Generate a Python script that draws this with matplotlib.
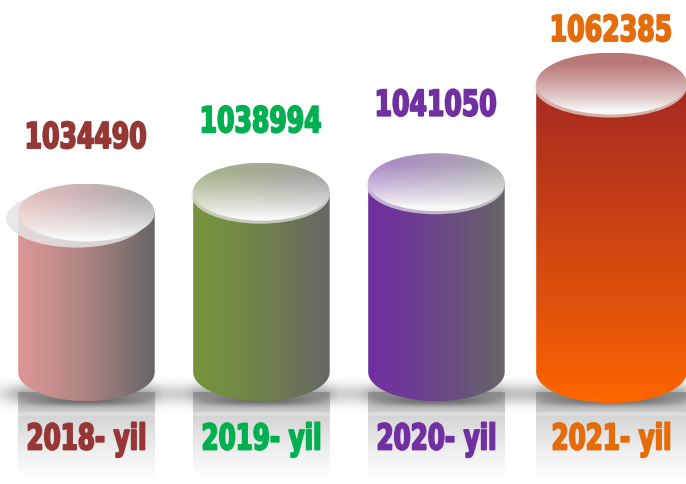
import numpy as np
import matplotlib
matplotlib.use("Agg")
import matplotlib.pyplot as plt
import matplotlib.colors as mcolors
from matplotlib.patches import Ellipse, PathPatch
from matplotlib.path import Path
from matplotlib.textpath import TextPath
from matplotlib.font_manager import FontProperties
from matplotlib.transforms import Affine2D, ScaledTranslation

# chart data
years = ["2018- yil", "2019- yil", "2020- yil", "2021- yil"]
values = [1034490, 1038994, 1041050, 1062385]
BASE = 1_000_000  # infographic baseline

# styles
text_colors = ["#953735", "#00B050", "#7030A0", "#E46C0A"]
body_left = ["#D99694", "#77933C", "#7030A0", "#A52A22"]
body_right = ["#666666", "#666666", "#666666", "#FF6600"]
body_vertical = [False, False, False, True]
lid_left = ["#E8BEBE", "#A8B48A", "#A986C8", "#B97878"]
lid_right = ["#ABABAB", "#A3A3A3", "#ADADAD", "#B97878"]
widths = [0.78, 0.78, 0.78, 0.86]
value_gap_px = [78, 73, 80, 56]  # lid centre -> value text centre

W, H = 686, 484
fig = plt.figure(figsize=(W / 100, H / 100), dpi=100)
ax = fig.add_axes([0, 0, 1, 1])
ax.axis("off")

XLIM = (-0.494, 3.426)
YLIM = (BASE - 24200, BASE + 80450)
ax.set_xlim(*XLIM)
ax.set_ylim(*YLIM)
ux = (XLIM[1] - XLIM[0]) / W  # data units per pixel
uy = (YLIM[1] - YLIM[0]) / H

def px_y(py):
    # pixel row (from top) -> data y
    return YLIM[1] - py * uy

def grad_rgb(c1, c2, n, gamma=1.0):
    t = np.linspace(0, 1, n) ** gamma
    a, b = np.array(mcolors.to_rgb(c1)), np.array(mcolors.to_rgb(c2))
    return a[None, :] * (1 - t[:, None]) + b[None, :] * t[:, None]

FP = FontProperties(family="DejaVu Sans", weight="bold")
DIGIT_H = TextPath((0, 0), "0", size=1, prop=FP).get_extents().height

def condensed_text(x, y, s, color, width_px, height_px=27):
    # poster style narrow text: squeeze a text path horizontally
    tp = TextPath((0, 0), s, size=1, prop=FP)
    ext = tp.get_extents()
    ky = height_px / DIGIT_H
    kx = width_px / ext.width
    tr = (Affine2D().translate(-(ext.x0 + ext.width / 2), -DIGIT_H / 2).scale(kx, ky)
          + ScaledTranslation(x, y, ax.transData))
    ax.add_patch(PathPatch(tp, facecolor=color, edgecolor=color, lw=1.3,
                           joinstyle="round", transform=tr, zorder=5))

for i, (yr, v) in enumerate(zip(years, values)):
    cx = i
    w = widths[i]
    x0, x1 = cx - w / 2, cx + w / 2
    hh = (31 if i == 3 else 29) * uy  # ellipse half height
    yb, yt = BASE, v

    # reflection below the cylinder
    ys = np.linspace(0, 1, 80)
    rgba = np.zeros((80, 2, 4))
    rgba[..., :3] = 0.55
    rgba[..., 3] = (0.55 * ys ** 1.3)[:, None]
    ax.imshow(rgba, extent=(x0, x1, px_y(H), px_y(392)), origin="lower",
              aspect="auto", zorder=1, interpolation="bilinear")

    # floor shadow
    sx0, sx1 = x0 - 30 * ux, x1 + 30 * ux
    nx, ny = 120, 60
    xs = np.linspace(sx0, sx1, nx)
    ax_a = np.clip(np.minimum(xs - sx0, sx1 - xs) / (35 * ux), 0, 1)
    ys = np.linspace(px_y(370), px_y(420), ny)
    ay = np.exp(-((ys - px_y(396)) / (10 * uy)) ** 2)
    rgba = np.zeros((ny, nx, 4))
    rgba[..., :3] = 0.35
    rgba[..., 3] = 0.5 * ay[:, None] * ax_a[None, :]
    ax.imshow(rgba, extent=(sx0, sx1, px_y(420), px_y(370)), origin="lower",
              aspect="auto", zorder=1.1, interpolation="bilinear")

    # light band just under the shadow
    ax.fill_between([x0, x1], px_y(416), px_y(412), color="white", alpha=0.25,
                    lw=0, zorder=1.15)

    # darker contact shadow under the base
    xs = np.linspace(x0, x1, nx)
    cxa = np.clip(1 - ((xs - cx) / (w / 2)) ** 2, 0, 1)
    ys = np.linspace(px_y(390), px_y(412), ny)
    ay = np.exp(-((ys - px_y(401)) / (5 * uy)) ** 2)
    rgba = np.zeros((ny, nx, 4))
    rgba[..., :3] = 0.2
    rgba[..., 3] = 0.5 * ay[:, None] * cxa[None, :]
    ax.imshow(rgba, extent=(x0, x1, px_y(412), px_y(390)), origin="lower",
              aspect="auto", zorder=1.2, interpolation="bilinear")

    # cylinder body: rectangle + lower half of base ellipse
    t = np.linspace(np.pi, 2 * np.pi, 60)
    arc = np.column_stack([cx + w / 2 * np.cos(t), yb + hh * np.sin(t)])
    verts = np.vstack([[x0, yt], arc, [x1, yt], [x0, yt]])
    body = PathPatch(Path(verts, closed=True), facecolor="none", edgecolor="none")
    ax.add_patch(body)
    if body_vertical[i]:
        g = grad_rgb(body_right[i], body_left[i], 100, 0.9)  # bottom -> top
        img = np.repeat(g[:, None, :], 2, axis=1)
    else:
        g = grad_rgb(body_left[i], body_right[i], 100, 1.3)
        img = np.repeat(g[None, :, :], 2, axis=0)
    im = ax.imshow(img, extent=(x0, x1, yb - hh, yt), origin="lower",
                   aspect="auto", zorder=2, interpolation="bilinear")
    im.set_clip_path(body)

    # rim around the lid
    if i == 0:
        rim = Ellipse((cx - 10 * ux, yt - 6 * uy), w + 4 * ux, 2 * hh,
                      facecolor="#E4E4E4", edgecolor="none", alpha=0.85, zorder=2.5)
    else:
        rim = Ellipse((cx - 1 * ux, yt - 3 * uy), w + 2 * ux, 2 * hh,
                      facecolor="#E8E8E8", edgecolor="none", alpha=0.7, zorder=2.5)
    ax.add_patch(rim)

    # lid with gradient
    lid = Ellipse((cx, yt), w, 2 * hh, facecolor="none", edgecolor="none")
    ax.add_patch(lid)
    hcol = grad_rgb(lid_left[i], lid_right[i], 80, 1.0)
    tv = np.linspace(0, 1, 60)  # 0 bottom, 1 top
    f = np.clip((tv - 0.08) / 0.75, 0, 1) ** 0.8
    white = np.array(mcolors.to_rgb("#F8F8F8"))
    img = white[None, None, :] * (1 - f)[:, None, None] + hcol[None, :, :] * f[:, None, None]
    im = ax.imshow(img, extent=(x0, x1, yt - hh, yt + hh), origin="lower",
                   aspect="auto", zorder=3, interpolation="bilinear")
    im.set_clip_path(lid)

    # texts
    condensed_text(cx, yt + value_gap_px[i] * uy, f"{v}", text_colors[i], 118)
    condensed_text(cx, px_y(436), yr, text_colors[i], 116)

ax.set_xlim(*XLIM)
ax.set_ylim(*YLIM)
fig.savefig("out.png", dpi=100)
